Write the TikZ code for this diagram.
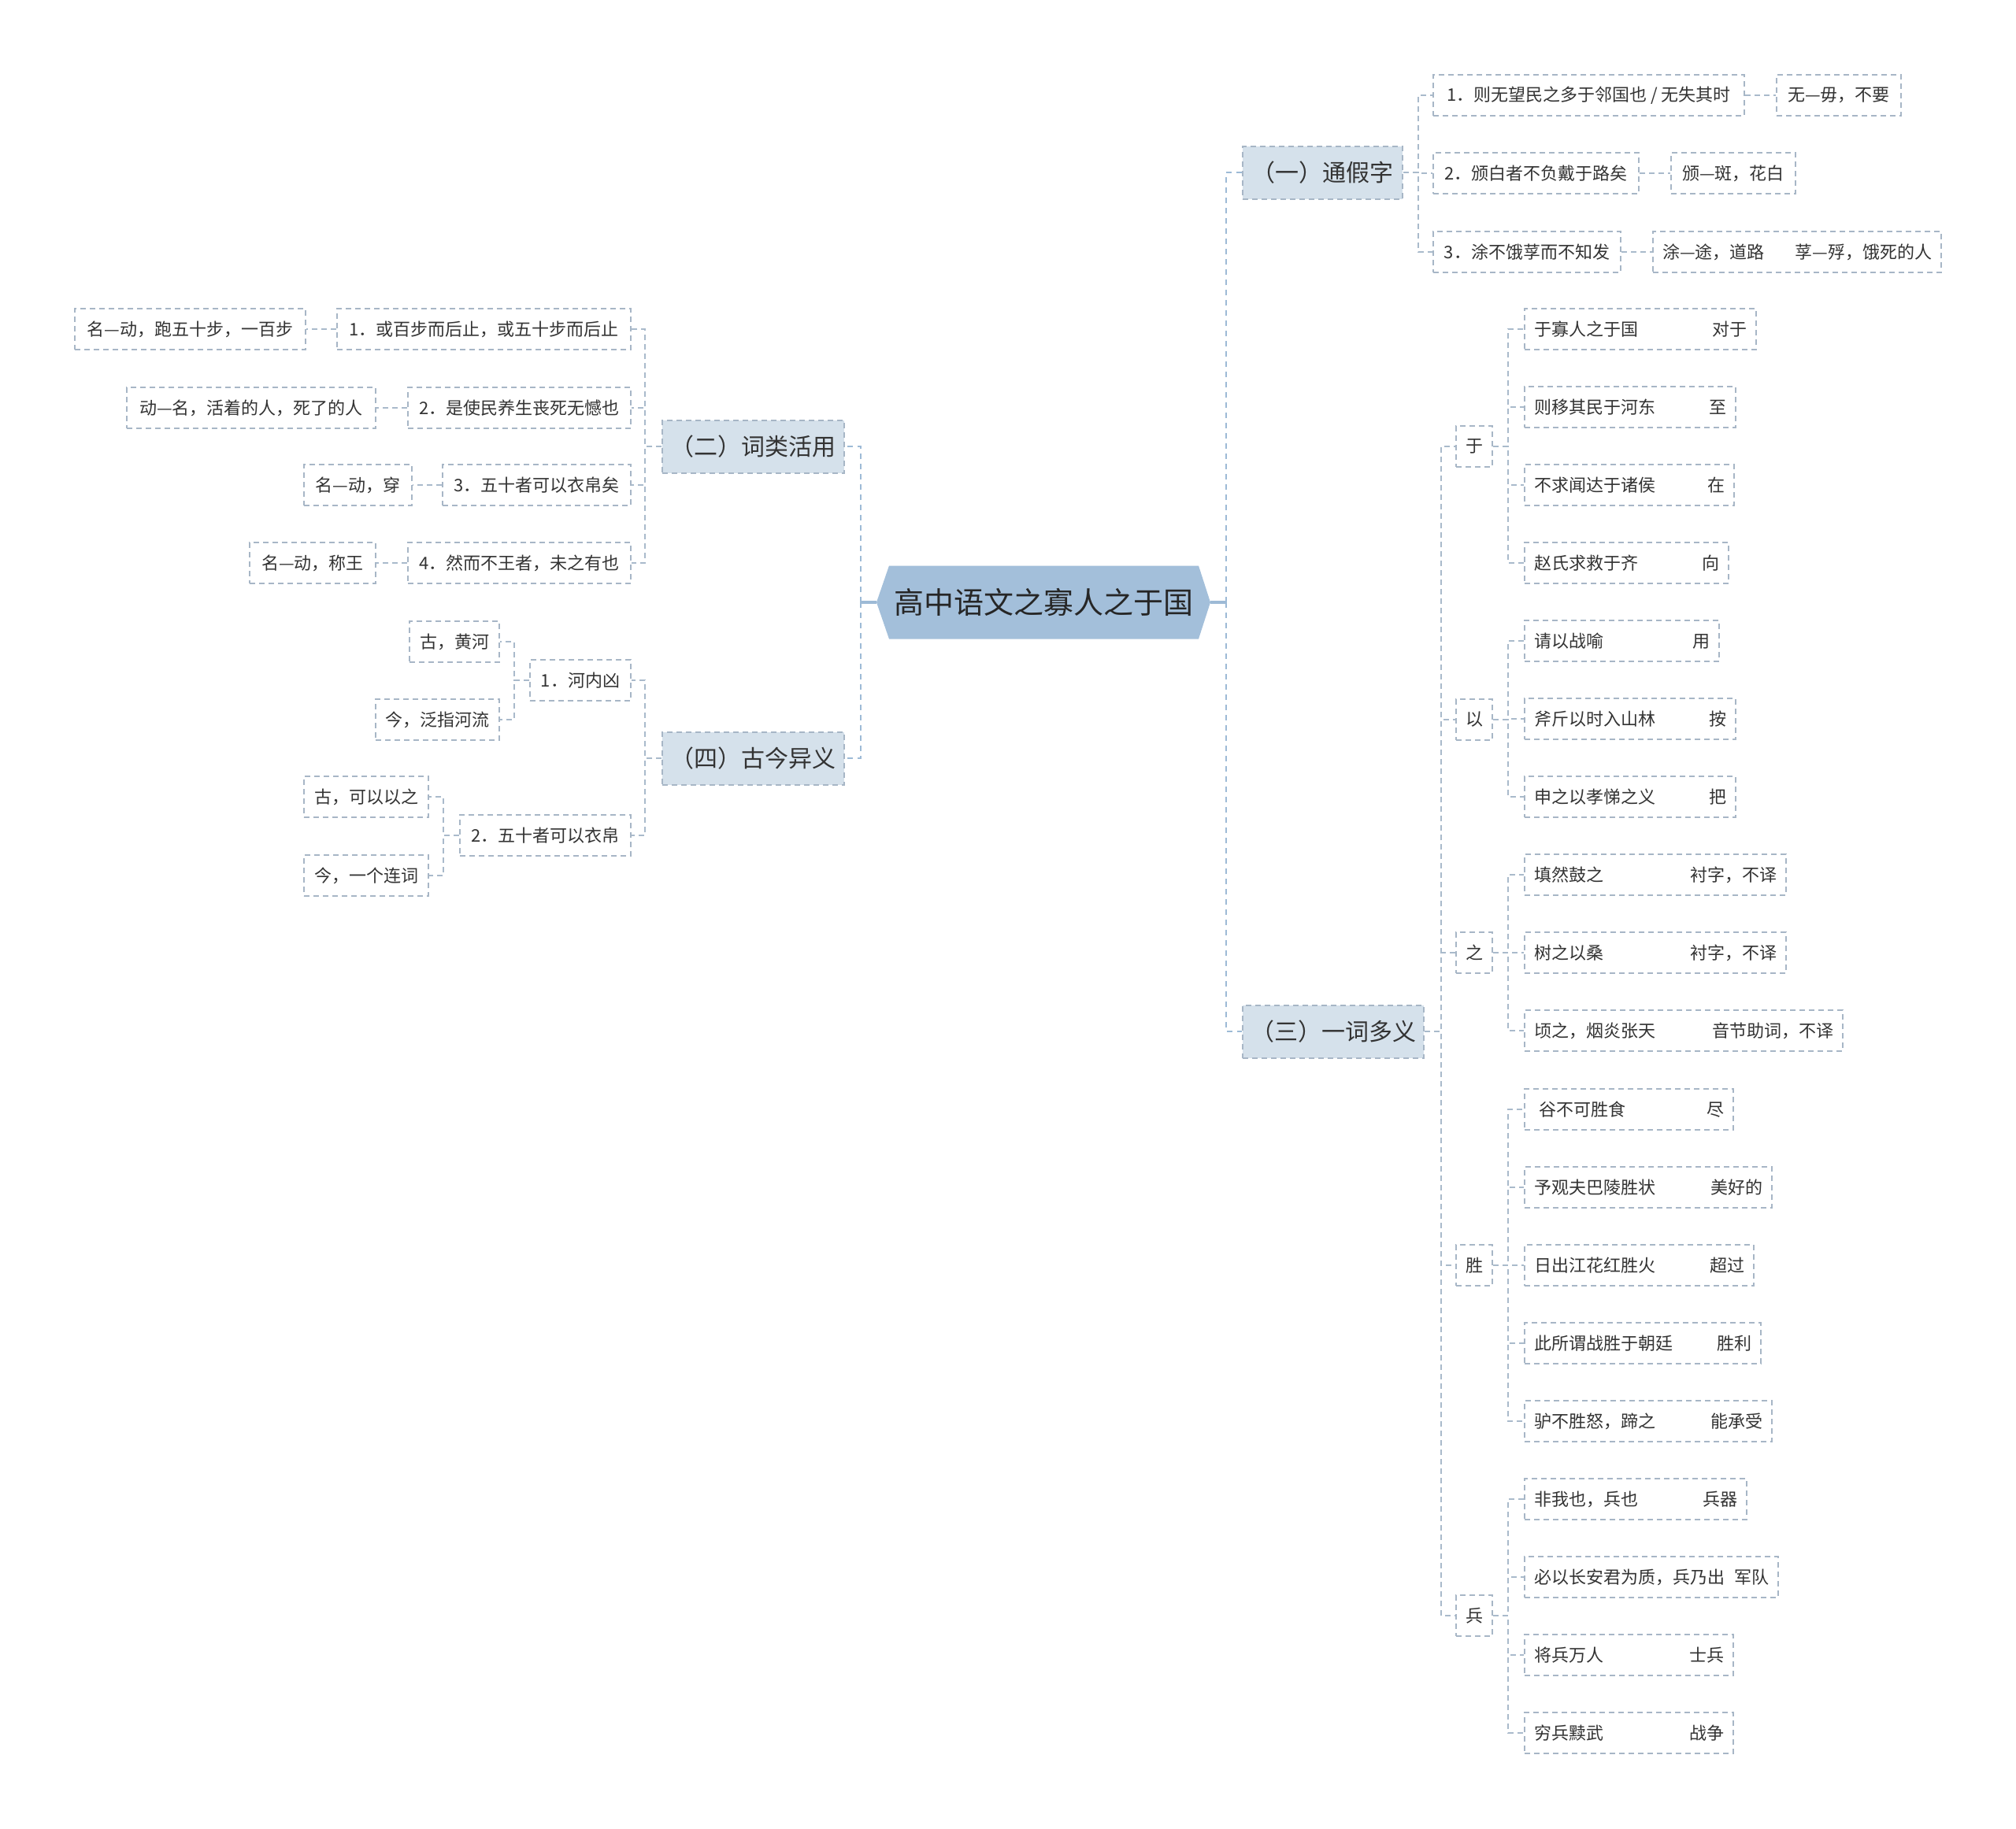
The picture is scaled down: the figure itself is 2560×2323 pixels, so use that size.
\documentclass[tikz,border=0pt]{standalone}
\usepackage{fontspec}
\setmainfont{Noto Sans CJK SC}
\definecolor{bordc}{HTML}{A7B6C6}
\definecolor{linec}{HTML}{A9BACB}
\definecolor{rootc}{HTML}{A3BFDA}
\definecolor{rootl}{HTML}{9DBAD6}
\definecolor{lonefill}{HTML}{D5E1EB}
\definecolor{txt}{HTML}{333333}
\begin{document}
\begin{tikzpicture}[x=0.5pt,y=-0.5pt,
  box/.style={draw=bordc, line width=1pt, dash pattern=on 3.5pt off 2.5pt, inner sep=0pt,
    minimum height=26pt, font=\fontsize{11}{13}\selectfont, text=txt},
  lf/.style={box, inner xsep=6pt, text width=#1},
  wd/.style={box, minimum width=23pt, anchor=west},
  lone/.style={draw=bordc, fill=lonefill, line width=1pt, dash pattern=on 3.5pt off 2.5pt,
    inner sep=0pt, minimum height=33.5pt, font=\fontsize{15}{18}\selectfont, text=txt},
  rootnode/.style={minimum width=212pt, minimum height=46.5pt, inner sep=0pt,
    font=\fontsize{19}{23}\selectfont, text=black!85,
    path picture={\fill[rootc] (path picture bounding box.west)
      -- ([xshift=8pt]path picture bounding box.north west)
      -- ([xshift=-7.5pt]path picture bounding box.north east)
      -- (path picture bounding box.east)
      -- ([xshift=-7.5pt]path picture bounding box.south east)
      -- ([xshift=8pt]path picture bounding box.south west) -- cycle;}},
  conn/.style={draw=linec, line width=0.8pt, dash pattern=on 3.5pt off 2.5pt},
  rootconn/.style={draw=rootl, line width=1.4pt, dash pattern=on 3.5pt off 3pt},
  rootstub/.style={draw=rootl, line width=1.6pt}
]
\fill[white] (0,0) rectangle (2560,2323);
\useasboundingbox (0,0) rectangle (2560,2323);

% root
\node[rootnode] (root) at (1325,765) {高中语文之寡人之于国};
\coordinate (cR) at (1557,765);
\coordinate (cL) at (1093,765);

% level 1
\node[lone, minimum width=101.5pt, anchor=west] (n1) at (1577,219) {（一）通假字};
\node[lone, minimum width=115pt, anchor=west] (n3) at (1577,1310) {（三）一词多义};
\node[lone, minimum width=115.5pt, anchor=east] (n2) at (1073,567) {（二）词类活用};
\node[lone, minimum width=115.5pt, anchor=east] (n4) at (1073,963) {（四）古今异义};

% (一) children
\node[box, minimum width=197.5pt, anchor=west] (a1) at (1819,121) {1．则无望民之多于邻国也 / 无失其时};
\node[box, minimum width=79pt, anchor=west] (a1c) at (2255,121) {无—毋，不要};
\node[box, minimum width=130.5pt, anchor=west] (a2) at (1819,220) {2．颁白者不负戴于路矣};
\node[box, minimum width=79pt, anchor=west] (a2c) at (2121,220) {颁—斑，花白};
\node[box, minimum width=119pt, anchor=west] (a3) at (1819,320) {3．涂不饿莩而不知发};
\node[lf=171pt, anchor=west] (a3c) at (2098,320) {涂—途，道路\hfill 莩—殍，饿死的人};

% (三) word nodes
\node[wd] (w1) at (1848,567) {于};
\node[wd] (w2) at (1848,914) {以};
\node[wd] (w3) at (1848,1210) {之};
\node[wd] (w4) at (1848,1607) {胜};
\node[wd] (w5) at (1848,2052) {兵};

% (三) leaves
\node[lf=135pt, anchor=west] (r0) at (1935,418) {于寡人之于国\hfill 对于};
\node[lf=122pt, anchor=west] (r1) at (1935,517) {则移其民于河东\hfill 至};
\node[lf=121pt, anchor=west] (r2) at (1935,616) {不求闻达于诸侯\hfill 在};
\node[lf=117.5pt, anchor=west] (r3) at (1935,715) {赵氏求救于齐\hfill 向};
\node[lf=111.5pt, anchor=west] (r4) at (1935,814) {请以战喻\hfill 用};
\node[lf=122pt, anchor=west] (r5) at (1935,913) {斧斤以时入山林\hfill 按};
\node[lf=122pt, anchor=west] (r6) at (1935,1012) {申之以孝悌之义\hfill 把};
\node[lf=154pt, anchor=west] (r7) at (1935,1111) {填然鼓之\hfill 衬字，不译};
\node[lf=154pt, anchor=west] (r8) at (1935,1210) {树之以桑\hfill 衬字，不译};
\node[lf=190pt, anchor=west] (r9) at (1935,1309) {顷之，烟炎张天\hfill 音节助词，不译};
\node[lf=120.5pt, anchor=west] (r10) at (1935,1409) {\hspace{3pt}谷不可胜食\hfill 尽};
\node[lf=145pt, anchor=west] (r11) at (1935,1508) {予观夫巴陵胜状\hfill 美好的};
\node[lf=133.5pt, anchor=west] (r12) at (1935,1607) {日出江花红胜火\hfill 超过};
\node[lf=138pt, anchor=west] (r13) at (1935,1706) {此所谓战胜于朝廷\hfill 胜利};
\node[lf=145pt, anchor=west] (r14) at (1935,1805) {驴不胜怒，蹄之\hfill 能承受};
\node[lf=129pt, anchor=west] (r15) at (1935,1904) {非我也，兵也\hfill 兵器};
\node[lf=149pt, anchor=west] (r16) at (1935,2003) {必以长安君为质，兵乃出\hfill 军队};
\node[lf=120.5pt, anchor=west] (r17) at (1935,2102) {将兵万人\hfill 士兵};
\node[lf=120.5pt, anchor=west] (r18) at (1935,2201) {穷兵黩武\hfill 战争};

% (二) children
\node[box, minimum width=186.5pt, anchor=east] (b1) at (802,418) {1．或百步而后止，或五十步而后止};
\node[box, minimum width=146.5pt, anchor=east] (b1c) at (389,418) {名—动，跑五十步，一百步};
\node[box, minimum width=141.5pt, anchor=east] (b2) at (802,518) {2．是使民养生丧死无憾也};
\node[box, minimum width=158pt, anchor=east] (b2c) at (478,518) {动—名，活着的人，死了的人};
\node[box, minimum width=119.5pt, anchor=east] (b3) at (802,616) {3．五十者可以衣帛矣};
\node[box, minimum width=68.5pt, anchor=east] (b3c) at (524,616) {名—动，穿};
\node[box, minimum width=141.5pt, anchor=east] (b4) at (802,715) {4．然而不王者，未之有也};
\node[box, minimum width=80pt, anchor=east] (b4c) at (478,715) {名—动，称王};

% (四) children
\node[box, minimum width=64pt, anchor=east] (c1) at (802,864) {1．河内凶};
\node[box, minimum width=57pt, anchor=east] (c1a) at (635,815) {古，黄河};
\node[box, minimum width=78.5pt, anchor=east] (c1b) at (635,914) {今，泛指河流};
\node[box, minimum width=108.5pt, anchor=east] (c2) at (802,1061) {2．五十者可以衣帛};
\node[box, minimum width=79pt, anchor=east] (c2a) at (545,1012) {古，可以以之};
\node[box, minimum width=79pt, anchor=east] (c2b) at (545,1112) {今，一个连词};

% root connectors
\draw[rootstub] (root.east) -- (cR);
\draw[rootstub] (root.west) -- (cL);
\draw[rootconn] (cR) |- (n1.west);
\draw[rootconn] (cR) |- (n3.west);
\draw[rootconn] (cL) |- (n2.east);
\draw[rootconn] (cL) |- (n4.east);

% (一)
\foreach \c in {a1,a2,a3} \draw[conn] (n1.east) -- ++(19,0) |- (\c.west);
\draw[conn] (a1.east) -- (a1c.west);
\draw[conn] (a2.east) -- (a2c.west);
\draw[conn] (a3.east) -- (a3c.west);

% (三)
\foreach \c in {w1,w2,w3,w4,w5} \draw[conn] (n3.east) -- ++(21,0) |- (\c.west);
\foreach \c in {r0,r1,r2,r3} \draw[conn] (w1.east) -- ++(19,0) |- (\c.west);
\foreach \c in {r4,r5,r6} \draw[conn] (w2.east) -- ++(19,0) |- (\c.west);
\foreach \c in {r7,r8,r9} \draw[conn] (w3.east) -- ++(19,0) |- (\c.west);
\foreach \c in {r10,r11,r12,r13,r14} \draw[conn] (w4.east) -- ++(19,0) |- (\c.west);
\foreach \c in {r15,r16,r17,r18} \draw[conn] (w5.east) -- ++(19,0) |- (\c.west);

% (二)
\foreach \c in {b1,b2,b3,b4} \draw[conn] (n2.west) -- ++(-21,0) |- (\c.east);
\draw[conn] (b1.west) -- (b1c.east);
\draw[conn] (b2.west) -- (b2c.east);
\draw[conn] (b3.west) -- (b3c.east);
\draw[conn] (b4.west) -- (b4c.east);

% (四)
\foreach \c in {c1,c2} \draw[conn] (n4.west) -- ++(-21,0) |- (\c.east);
\foreach \c in {c1a,c1b} \draw[conn] (c1.west) -- ++(-19,0) |- (\c.east);
\foreach \c in {c2a,c2b} \draw[conn] (c2.west) -- ++(-20,0) |- (\c.east);
\end{tikzpicture}
\end{document}
